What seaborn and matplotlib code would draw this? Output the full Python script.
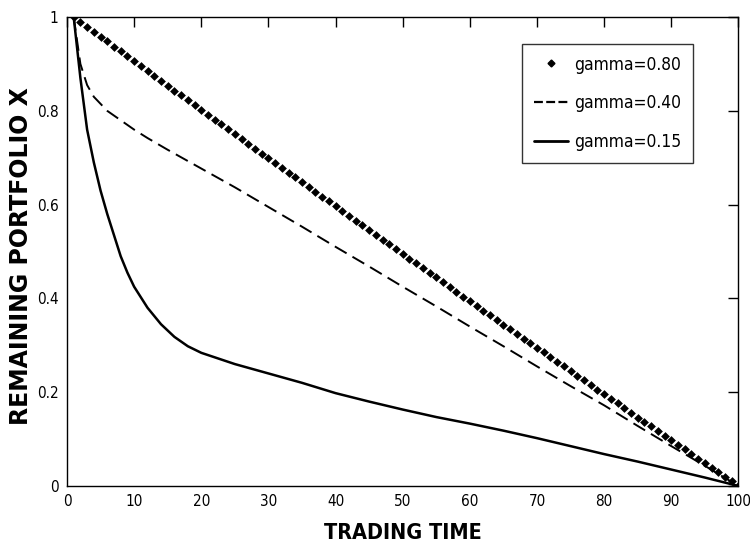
import numpy as np
import pandas as pd
import matplotlib.pyplot as plt
from matplotlib.lines import Line2D
import seaborn as sns

# gamma = 0.80 : one marker per trading step
time_080 = list(range(1, 101))
port_080 = [1.000, 0.990, 0.979, 0.968, 0.958, 0.948, 0.937, 0.927, 0.916, 0.906,
            0.895, 0.885, 0.875, 0.864, 0.854, 0.843, 0.833, 0.823, 0.812, 0.802,
            0.792, 0.781, 0.771, 0.761, 0.750, 0.740, 0.730, 0.719, 0.709, 0.699,
            0.689, 0.678, 0.668, 0.658, 0.648, 0.637, 0.627, 0.617, 0.607, 0.597,
            0.586, 0.576, 0.566, 0.556, 0.546, 0.536, 0.525, 0.515, 0.505, 0.495,
            0.485, 0.475, 0.465, 0.455, 0.445, 0.435, 0.424, 0.414, 0.404, 0.394,
            0.384, 0.374, 0.364, 0.354, 0.344, 0.334, 0.324, 0.314, 0.304, 0.295,
            0.285, 0.275, 0.265, 0.255, 0.245, 0.235, 0.225, 0.215, 0.205, 0.196,
            0.186, 0.176, 0.166, 0.156, 0.146, 0.137, 0.127, 0.117, 0.107, 0.097,
            0.088, 0.078, 0.068, 0.058, 0.049, 0.039, 0.029, 0.019, 0.010, 0.000]

# gamma = 0.40
time_040 = [1, 2, 3, 4, 5, 6, 7, 8, 10, 12, 15, 20, 25, 30, 35, 40, 45, 50,
            55, 60, 65, 70, 75, 80, 85, 90, 95, 100]
port_040 = [1.000, 0.900, 0.855, 0.830, 0.815, 0.800, 0.790, 0.780, 0.760, 0.742,
            0.717, 0.677, 0.637, 0.595, 0.553, 0.510, 0.468, 0.425, 0.383, 0.340,
            0.298, 0.255, 0.213, 0.172, 0.128, 0.085, 0.043, 0.000]

# gamma = 0.15
time_015 = [1, 2, 3, 4, 5, 6, 7, 8, 9, 10, 12, 14, 16, 18, 20, 25, 30, 35, 40,
            45, 50, 55, 60, 65, 70, 75, 80, 85, 90, 95, 100]
port_015 = [1.000, 0.870, 0.760, 0.690, 0.630, 0.580, 0.535, 0.490, 0.455, 0.425,
            0.380, 0.345, 0.318, 0.298, 0.284, 0.260, 0.240, 0.220, 0.198, 0.180,
            0.163, 0.147, 0.133, 0.118, 0.102, 0.085, 0.068, 0.052, 0.035, 0.018,
            0.000]

labels = ["gamma=0.80", "gamma=0.40", "gamma=0.15"]

sns.set_style("white")
plt.rcParams["font.family"] = ["DejaVu Sans"]
plt.rcParams["font.stretch"] = "condensed"
for key in ["text.color", "axes.labelcolor", "xtick.color", "ytick.color"]:
    plt.rcParams[key] = "black"

fig = plt.figure(figsize=(7.5, 5.51), dpi=100)
ax = fig.add_axes([0.0893, 0.118, 0.8953, 0.851])

sns.scatterplot(x=time_080, y=port_080, marker="D", s=20, color="black",
                linewidth=0, ax=ax)
sns.lineplot(x=time_040, y=port_040, color="black", lw=1.4, ax=ax)
ax.lines[-1].set_linestyle((0, (7, 3.5)))
sns.lineplot(x=time_015, y=port_015, color="black", lw=1.8, ax=ax)

ax.set_xlim(0, 100)
ax.set_ylim(0, 1)
ax.set_xticks(np.arange(0, 101, 10))
ax.set_yticks([0, 0.2, 0.4, 0.6, 0.8, 1])
ax.set_yticklabels(["0", "0.2", "0.4", "0.6", "0.8", "1"])
ax.tick_params(axis="both", which="both", direction="in", length=7, width=1,
               top=True, right=True, labelsize=11, pad=6)
for s in ax.spines.values():
    s.set_visible(True)
    s.set_color("black")
    s.set_linewidth(1.0)

ax.set_xlabel("TRADING TIME", fontsize=15.5, fontweight="bold", labelpad=10)
ax.set_ylabel("REMAINING PORTFOLIO X", fontsize=17, fontweight="bold",
              fontstretch="normal")
ax.yaxis.set_label_coords(-0.05, 0.49)

handles = [
    Line2D([], [], color="black", marker="D", markersize=3.5, linestyle="none"),
    Line2D([], [], color="black", lw=1.6, linestyle=(0, (4, 1.5))),
    Line2D([], [], color="black", lw=2.0),
]
leg = ax.legend(handles, labels, loc="upper left", bbox_to_anchor=(0.678, 0.942),
                borderaxespad=0, fontsize=12.5, frameon=True, fancybox=False,
                handlelength=2.0, handletextpad=0.35, labelspacing=1.2,
                borderpad=0.65)
leg.get_frame().set_edgecolor("black")
leg.get_frame().set_linewidth(1.0)

fig.savefig("out.png", dpi=100)
